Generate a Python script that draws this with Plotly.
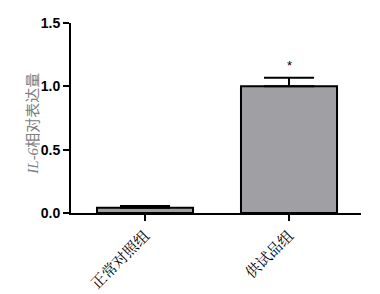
import plotly.graph_objects as go

categories = ["正常对照组", "供试品组"]
values = [0.042, 1.0]
errors = [0.013, 0.068]
yticks = [0.0, 0.5, 1.0, 1.5]
yticklabels = ["0.0", "0.5", "1.0", "1.5"]
ytitle = "<i>IL-6</i>相对表达量"

fig = go.Figure()
fig.add_trace(go.Bar(
    x=[0, 1], y=values, width=0.667,
    marker=dict(color="#a0a0a4", line=dict(color="black", width=2)),
    error_y=dict(type="data", array=errors, arrayminus=[0, 0], symmetric=False,
                 color="black", thickness=2, width=25),
))
fig.add_annotation(x=1, y=values[1] + errors[1], yshift=12, text="*", showarrow=False,
                   font=dict(family="Liberation Sans", size=13, color="black"))
fig.add_annotation(xref="paper", yref="paper", x=-0.131, y=0.47, text=ytitle,
                   textangle=-90, showarrow=False, xanchor="center", yanchor="middle",
                   font=dict(family="Liberation Serif, Noto Sans CJK SC", size=15, color="#808080"))
fig.update_layout(
    width=380, height=294, margin=dict(l=71, r=19, t=23, b=81),
    plot_bgcolor="white", paper_bgcolor="white", showlegend=False,
    xaxis=dict(range=[-0.514, 1.5], tickmode="array", tickvals=[0, 1], ticktext=categories,
               tickangle=-45, showline=True, linecolor="black", linewidth=2,
               ticks="outside", ticklen=6, tickwidth=2, tickcolor="black",
               showgrid=False, zeroline=False, automargin=False,
               tickfont=dict(family="Noto Serif CJK SC, Noto Sans CJK SC", size=15, color="black")),
    yaxis=dict(range=[0, 1.5], tickmode="array", tickvals=yticks, ticktext=yticklabels,
               showline=True, linecolor="black", linewidth=2,
               ticks="outside", ticklen=6, tickwidth=2, tickcolor="black",
               showgrid=False, zeroline=False, automargin=False,
               tickfont=dict(family="Liberation Sans", size=14, color="black", weight="bold")),
)
fig.write_html("out.html")
